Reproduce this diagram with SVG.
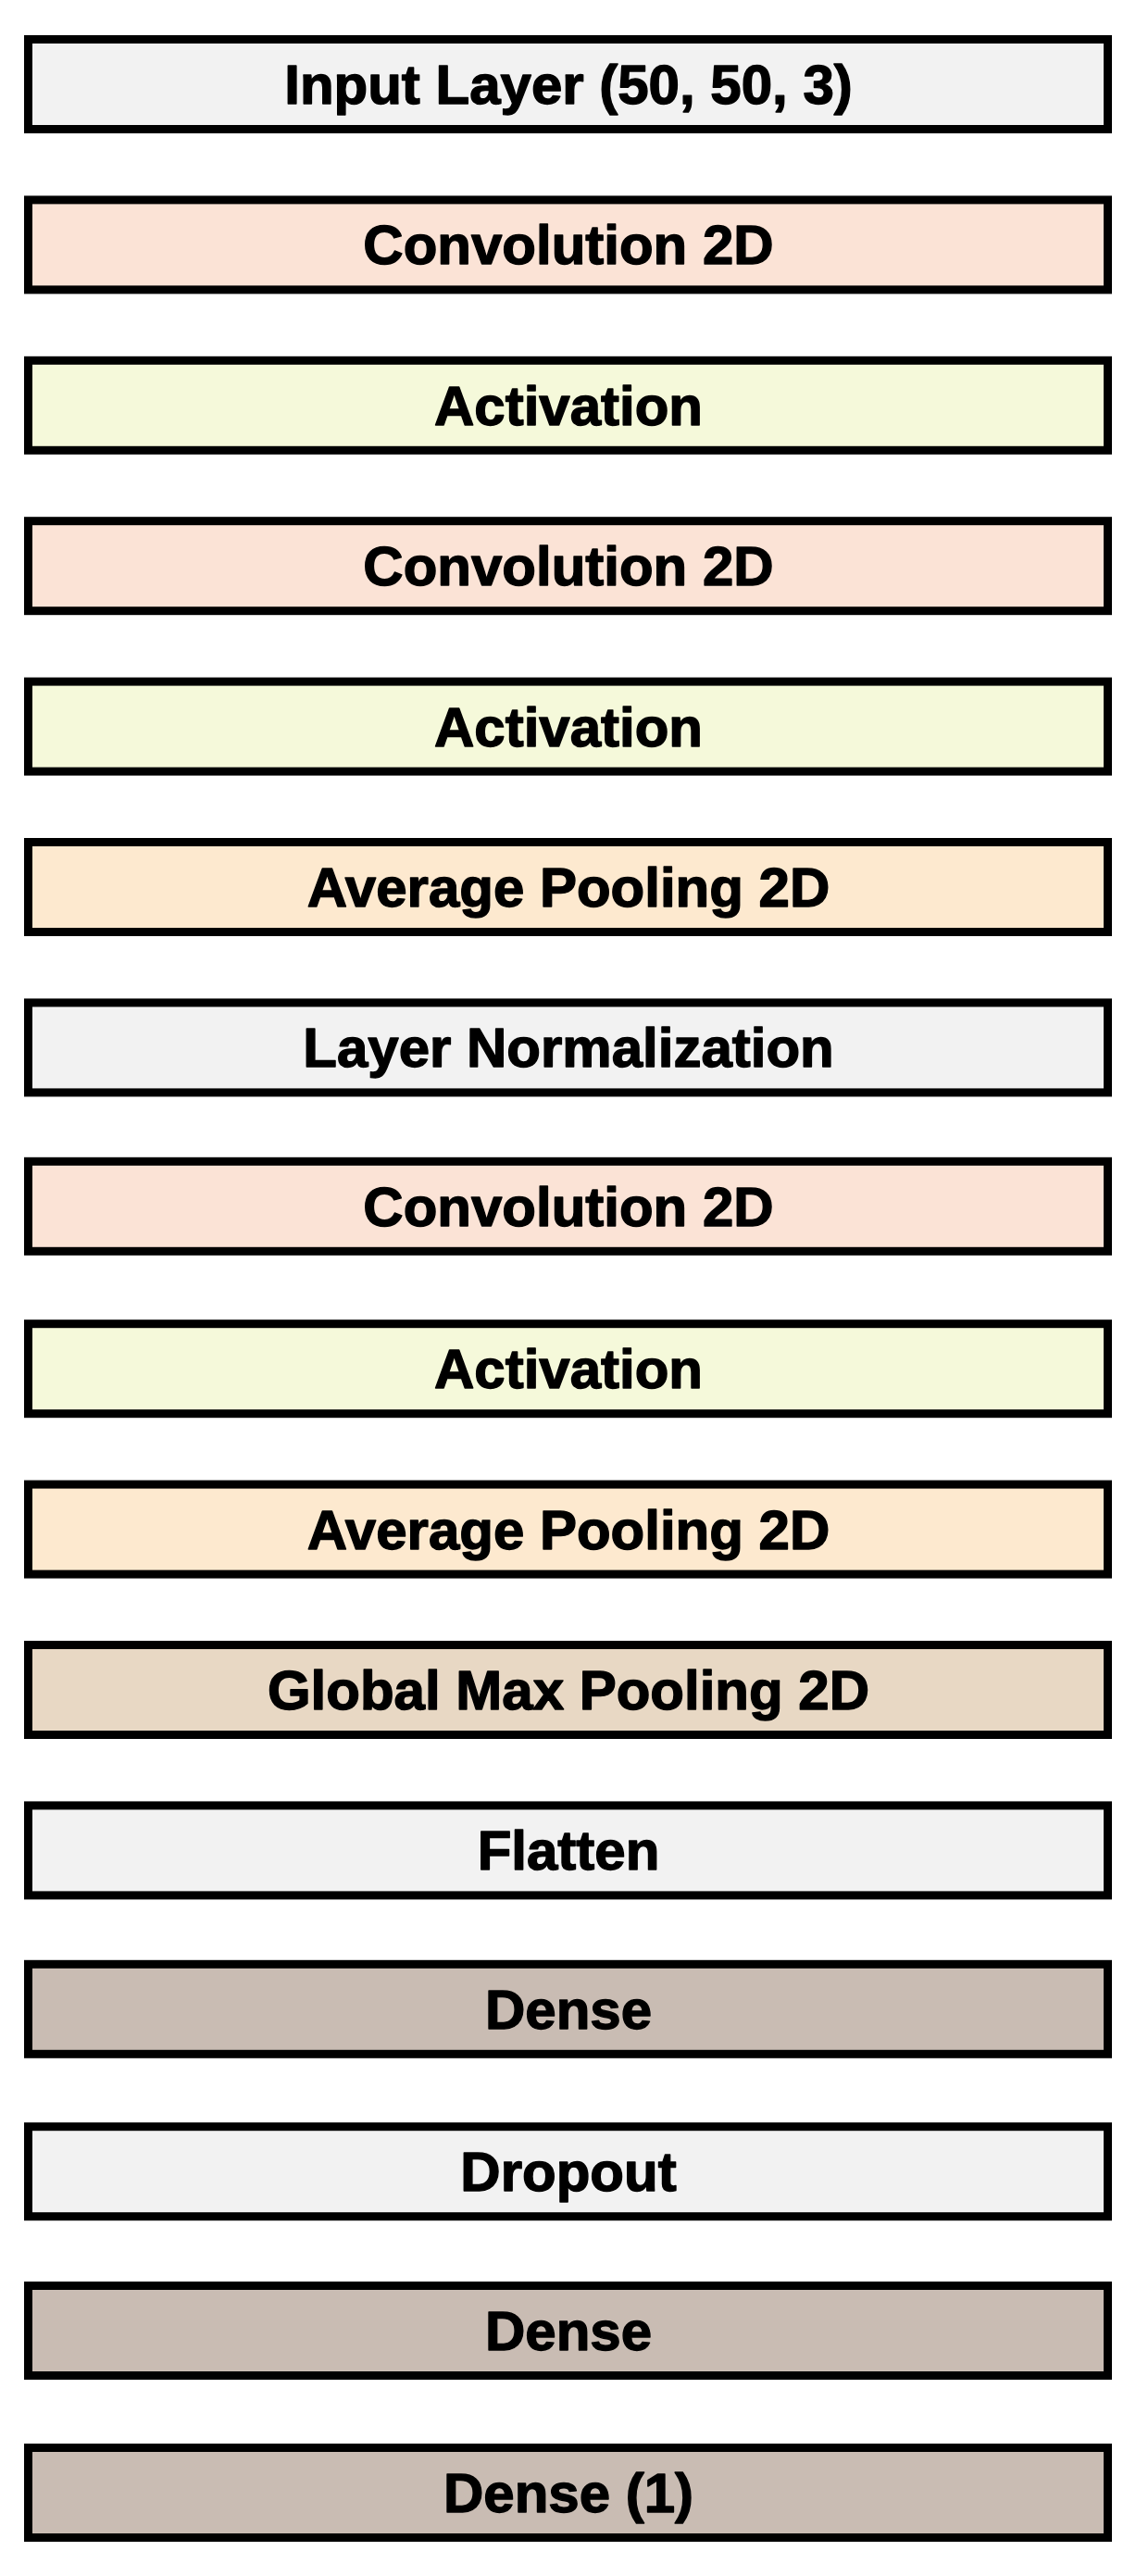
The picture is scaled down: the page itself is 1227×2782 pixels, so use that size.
<svg xmlns="http://www.w3.org/2000/svg" width="1227" height="2782" viewBox="0 0 1227 2782">
<style>
.box{stroke:#000;stroke-width:9}
.lbl{font-family:"Liberation Sans",Arial,sans-serif;font-weight:bold;font-size:60px;text-anchor:middle;fill:#000;stroke:#000;stroke-width:1.4;stroke-linejoin:round}
.gray{fill:#F2F2F2}.conv{fill:#FBE3D6}.act{fill:#F5F9DA}.avg{fill:#FDE9CF}.gmp{fill:#E8D8C4}.dense{fill:#C9BCB3}
</style>
<rect width="1227" height="2782" fill="#fff"/>
<g id="connectors"/>
<g id="n0"><rect class="box gray" x="30.5" y="42.5" width="1166" height="97"/><text class="lbl" x="614" y="112">Input Layer (50, 50, 3)</text></g>
<g id="n1"><rect class="box conv" x="30.5" y="215.9" width="1166" height="97"/><text class="lbl" x="614" y="285.4">Convolution 2D</text></g>
<g id="n2"><rect class="box act" x="30.5" y="389.3" width="1166" height="97"/><text class="lbl" x="614" y="458.8">Activation</text></g>
<g id="n3"><rect class="box conv" x="30.5" y="562.7" width="1166" height="97"/><text class="lbl" x="614" y="632.2">Convolution 2D</text></g>
<g id="n4"><rect class="box act" x="30.5" y="736.1" width="1166" height="97"/><text class="lbl" x="614" y="805.6">Activation</text></g>
<g id="n5"><rect class="box avg" x="30.5" y="909.5" width="1166" height="97"/><text class="lbl" x="614" y="979">Average Pooling 2D</text></g>
<g id="n6"><rect class="box gray" x="30.5" y="1082.9" width="1166" height="97"/><text class="lbl" x="614" y="1152.4">Layer Normalization</text></g>
<g id="n7"><rect class="box conv" x="30.5" y="1254.3" width="1166" height="97"/><text class="lbl" x="614" y="1323.8">Convolution 2D</text></g>
<g id="n8"><rect class="box act" x="30.5" y="1429.7" width="1166" height="97"/><text class="lbl" x="614" y="1499.2">Activation</text></g>
<g id="n9"><rect class="box avg" x="30.5" y="1603.1" width="1166" height="97"/><text class="lbl" x="614" y="1672.6">Average Pooling 2D</text></g>
<g id="n10"><rect class="box gmp" x="30.5" y="1776.5" width="1166" height="97"/><text class="lbl" x="614" y="1846">Global Max Pooling 2D</text></g>
<g id="n11"><rect class="box gray" x="30.5" y="1949.9" width="1166" height="97"/><text class="lbl" x="614" y="2019.4">Flatten</text></g>
<g id="n12"><rect class="box dense" x="30.5" y="2121.3" width="1166" height="97"/><text class="lbl" x="614" y="2190.8">Dense</text></g>
<g id="n13"><rect class="box gray" x="30.5" y="2296.7" width="1166" height="97"/><text class="lbl" x="614" y="2366.2">Dropout</text></g>
<g id="n14"><rect class="box dense" x="30.5" y="2468.5" width="1166" height="97"/><text class="lbl" x="614" y="2538">Dense</text></g>
<g id="n15"><rect class="box dense" x="30.5" y="2643.5" width="1166" height="97"/><text class="lbl" x="614" y="2713">Dense (1)</text></g>
</svg>
